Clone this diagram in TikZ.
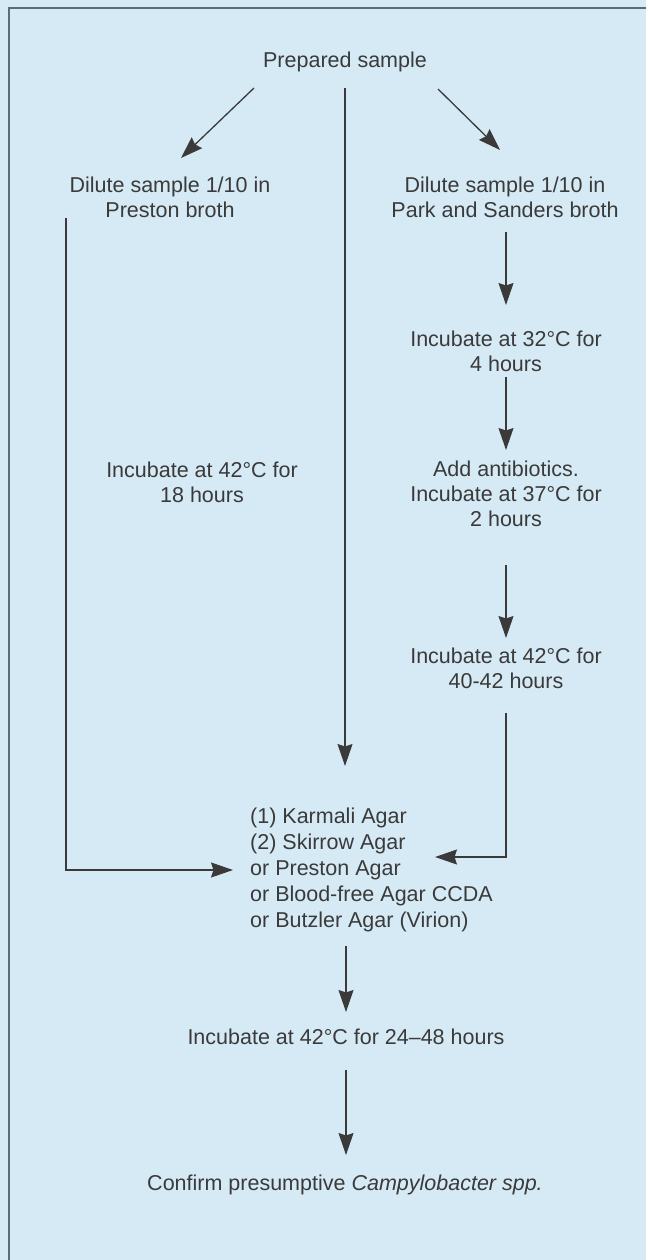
\documentclass[tikz,border=0pt]{standalone}
\usepackage{fontspec}
\setmainfont{Liberation Sans}
\usetikzlibrary{arrows.meta}
\definecolor{bg}{HTML}{D6EAF6}
\definecolor{ink}{HTML}{3A3A3A}
\definecolor{framec}{HTML}{5E6B72}
\tikzset{
  lbl/.style={text=ink, font=\fontsize{21.5}{25}\selectfont, align=center, inner sep=0pt},
  conn/.style={draw=ink, line width=1.3pt},
  arr/.style={conn, -{Stealth[length=22pt,width=15pt,inset=2.5pt]}},
}
\begin{document}
\begin{tikzpicture}[x=1pt,y=-1pt]
\fill[bg] (0,0) rectangle (646,1260);
\useasboundingbox (0,0) rectangle (646,1260);
\draw[framec, line width=1.6pt] (9,1260) -- (9,8) -- (646,8);

% texts
\node[lbl] (prep) at (345,62) {Prepared sample};
\node[lbl] (dilL) at (170,197) {Dilute sample 1/10 in\\Preston broth};
\node[lbl] (dilR) at (505,197) {Dilute sample 1/10 in\\Park and Sanders broth};
\node[lbl] (inc18) at (202,482) {Incubate at 42°C for\\18 hours};
\node[lbl] (inc32) at (506,351) {Incubate at 32°C for\\4 hours};
\node[lbl] (abx) at (506,494) {Add antibiotics.\\Incubate at 37°C for\\2 hours};
\node[lbl] (inc40) at (506,668) {Incubate at 42°C for\\40-42 hours};
\node[lbl, align=left, anchor=west, font=\fontsize{21.5}{26}\selectfont] (agar) at (250,870)
  {(1) Karmali Agar\\(2) Skirrow Agar\\or Preston Agar\\or Blood-free Agar CCDA\\or Butzler Agar (Virion)};
\node[lbl] (inc24) at (346,1037) {Incubate at 42°C for 24–48 hours};
\node[lbl] (conf) at (345,1185) {Confirm presumptive \textit{Campylobacter spp.}};

% connector end points
\coordinate (pL) at (254,88);
\coordinate (tL) at (181,158);
\coordinate (pR) at (438,89);
\coordinate (tR) at (500,150);
\coordinate (pM) at (345,88);
\coordinate (tM) at (345,766);
\coordinate (lTop) at (66,218);
\coordinate (lBot) at (66,870);
\coordinate (lTip) at (233,870);
\coordinate (r1s) at (506,232);
\coordinate (r1e) at (506,305);
\coordinate (r2s) at (506,377);
\coordinate (r2e) at (506,450);
\coordinate (r3s) at (506,565);
\coordinate (r3e) at (506,638);
\coordinate (r4s) at (506,713);
\coordinate (r4c) at (506,857);
\coordinate (r4e) at (435,857);
\coordinate (d1s) at (346,946);
\coordinate (d1e) at (346,1012);
\coordinate (d2s) at (346,1070);
\coordinate (d2e) at (346,1155);

\draw[arr] (pL) -- (tL);
\draw[arr] (pR) -- (tR);
\draw[arr] (pM) -- (tM);
\draw[arr] (lTop) -- (lBot) -- (lTip);
\draw[arr] (r1s) -- (r1e);
\draw[arr] (r2s) -- (r2e);
\draw[arr] (r3s) -- (r3e);
\draw[arr] (r4s) -- (r4c) -- (r4e);
\draw[arr] (d1s) -- (d1e);
\draw[arr] (d2s) -- (d2e);
\end{tikzpicture}
\end{document}
